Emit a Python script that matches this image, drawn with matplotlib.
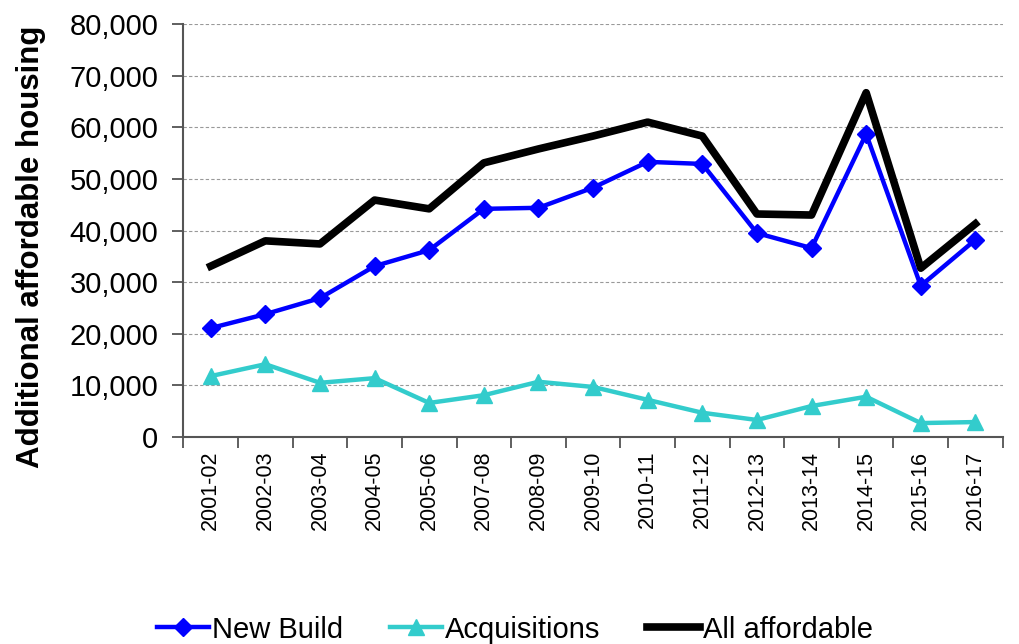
import matplotlib
matplotlib.use("Agg")
import matplotlib.pyplot as plt
from matplotlib.ticker import FuncFormatter, FixedLocator
import numpy as np

plt.rcParams['font.family'] = ['Liberation Sans', 'DejaVu Sans']

years = ["2001-02", "2002-03", "2003-04", "2004-05", "2005-06", "2007-08",
         "2008-09", "2009-10", "2010-11", "2011-12", "2012-13", "2013-14",
         "2014-15", "2015-16", "2016-17"]
new_build = [21100, 23800, 26900, 33100, 36200, 44200, 44400, 48300,
             53300, 52900, 39500, 36600, 58700, 29300, 38200]
acquisitions = [11800, 14100, 10500, 11400, 6600, 8100, 10700, 9700,
                7200, 4700, 3300, 6000, 7800, 2700, 2900]
all_affordable = [33100, 38000, 37400, 45900, 44200, 53100, 55800, 58300,
                  61000, 58300, 43200, 43000, 66700, 32700, 41300]

fig = plt.figure(figsize=(10.19, 6.44), dpi=100)
ax = fig.add_axes([0.18, 0.3214, 0.804, 0.6413])

x = np.arange(len(years))
ax.plot(x, new_build, color="#0000FF", lw=3.2, marker="D", ms=9, label="New Build", zorder=3)
ax.plot(x, acquisitions, color="#33CCCC", lw=3.2, marker="^", ms=11, label="Acquisitions", zorder=3)
ax.plot(x, all_affordable, color="black", lw=5.5, label="All affordable", zorder=4)

ax.set_xlim(-0.5, len(years) - 0.5)
ax.set_ylim(0, 80000)
ax.set_yticks(range(0, 80001, 10000))
ax.yaxis.set_major_formatter(FuncFormatter(lambda v, p: f"{int(v):,}"))
ax.grid(axis="y", color="#999999", ls=(0, (3, 2)), lw=0.8)
ax.set_axisbelow(True)

ax.set_xticks(x)
ax.set_xticklabels(years, rotation=90, fontsize=15.5)
ax.tick_params(axis="x", which="major", length=0, pad=10)
ax.xaxis.set_minor_locator(FixedLocator(np.arange(-0.5, len(years), 1)))
ax.tick_params(axis="x", which="minor", length=8, width=1.2, color="#444444")
ax.tick_params(axis="y", labelsize=21, length=8, width=1.2, color="#444444", pad=10)

for s in ["top", "right"]:
    ax.spines[s].set_visible(False)
for s in ["left", "bottom"]:
    ax.spines[s].set_color("#555555")
    ax.spines[s].set_linewidth(1.5)

ax.set_ylabel("Additional affordable housing", fontsize=22.5, fontweight="bold")
ax.yaxis.set_label_coords(-0.168, 0.46)

fig.legend(loc="lower center", ncol=3, frameon=False, fontsize=21,
           bbox_to_anchor=(0.505, -0.04), handlelength=1.8, handletextpad=0.1,
           columnspacing=1.6)

fig.savefig("out.png", dpi=100)
